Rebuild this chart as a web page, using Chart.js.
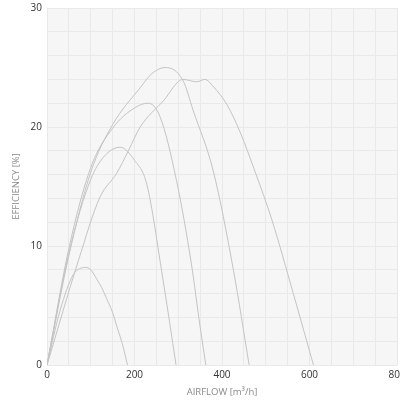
<!DOCTYPE html>
<html>
<head>
<meta charset="utf-8">
<script src="https://cdn.jsdelivr.net/npm/chart.js@4/dist/chart.umd.min.js"></script>
<style>
  html, body { margin: 0; padding: 0; background: #fff; }
  #wrap { width: 400px; height: 406px; }
</style>
</head>
<body>
<div id="wrap"><canvas id="chart"></canvas></div>
<script>
// fan curves: airflow (m3/h) vs efficiency (%)
const flow1 = [0, 30, 60, 75, 88, 100, 114, 125, 136, 150, 160, 172, 184];
const eff1  = [0, 4.6, 7.6, 8.1, 8.2, 8.0, 7.2, 6.5, 5.6, 4.4, 3.2, 1.8, 0];

const flow2 = [0, 50, 100, 130, 167, 200, 228, 265, 295];
const eff2  = [0, 9.4, 15.6, 17.5, 18.3, 17.2, 15.2, 7.2, 0];

const flow3 = [0, 50, 100, 150, 200, 231, 258, 296, 330, 350, 363];
const eff3  = [0, 9.8, 16.6, 19.9, 21.6, 22.0, 20.9, 15.5, 8.5, 3.2, 0];

const flow4 = [0, 50, 100, 150, 213, 240, 270, 311, 334, 380, 426, 462];
const eff4  = [0, 9.2, 16.2, 20.2, 23.3, 24.5, 25.0, 23.9, 21.4, 16.3, 8.0, 0];

const flow5 = [0, 72, 121, 159, 186, 213, 266, 311, 342, 361, 380, 411, 441, 475, 514, 563, 609];
const eff5  = [0, 8.8, 14.1, 16.1, 18.0, 20.0, 22.2, 24.0, 23.8, 24.0, 23.4, 21.9, 19.6, 16.3, 12.2, 6.0, 0];

const xTickLabels = [0, 200, 400, 600, 800];
const yTickLabels = [0, 10, 20, 30];

function pts(xs, ys) {
    let out = [];
    for (let i = 0; i < xs.length; i++) out.push({x: xs[i], y: ys[i]});
    return out;
}

function curve(xs, ys) {
    return {
        data: pts(xs, ys),
        borderColor: '#c4c4c4',
        borderWidth: 1,
        pointRadius: 0,
        fill: false,
        showLine: true,
        cubicInterpolationMode: 'monotone'
    };
}

// grey plot area behind the grid
const plotBg = {
    id: 'plotBg',
    beforeDraw(chart) {
        const a = chart.chartArea, ctx = chart.ctx;
        ctx.save();
        ctx.fillStyle = '#f6f6f6';
        ctx.fillRect(a.left, a.top, a.right - a.left, a.bottom - a.top);
        ctx.restore();
    }
};

new Chart(document.getElementById('chart'), {
    type: 'scatter',
    data: {
        datasets: [
            curve(flow1, eff1),
            curve(flow2, eff2),
            curve(flow3, eff3),
            curve(flow4, eff4),
            curve(flow5, eff5)
        ]
    },
    options: {
        responsive: true,
        maintainAspectRatio: false,
        animation: false,
        layout: { padding: { top: 8, right: 3, left: 0, bottom: 0 } },
        plugins: { legend: { display: false }, tooltip: { enabled: false } },
        scales: {
            x: {
                type: 'linear', min: 0, max: 800,
                border: { display: false },
                grid: { color: '#e9e9e9', lineWidth: 1, drawTicks: false },
                ticks: {
                    stepSize: 50, padding: 4, maxRotation: 0, autoSkip: false,
                    color: '#333', font: { family: 'Open Sans', size: 10 },
                    callback: v => xTickLabels.includes(v) ? v : ''
                },
                title: {
                    display: true, text: 'AIRFLOW [m\u00b3/h]', color: '#8a8a8a',
                    font: { family: 'Open Sans', size: 9.5 }, padding: { top: 4, bottom: 8 }
                },
                // let the last label hang off the edge like the original
                afterFit: s => { s.height = 41; s.paddingRight = 0; s.paddingLeft = 0; }
            },
            y: {
                min: 0, max: 30,
                border: { display: false },
                grid: { color: '#e9e9e9', lineWidth: 1, drawTicks: false },
                ticks: {
                    stepSize: 2, padding: 5, autoSkip: false,
                    color: '#333', font: { family: 'Open Sans', size: 10 },
                    callback: v => yTickLabels.includes(v) ? v : ''
                },
                title: {
                    display: true, text: 'EFFICIENCY [%]', color: '#8a8a8a',
                    font: { family: 'Open Sans', size: 9.5 }, padding: { top: 11, bottom: 4 }
                },
                afterFit: s => { s.width = 47; s.paddingTop = 0; s.paddingBottom = 0; }
            }
        }
    },
    plugins: [plotBg]
});
</script>
</body>
</html>
